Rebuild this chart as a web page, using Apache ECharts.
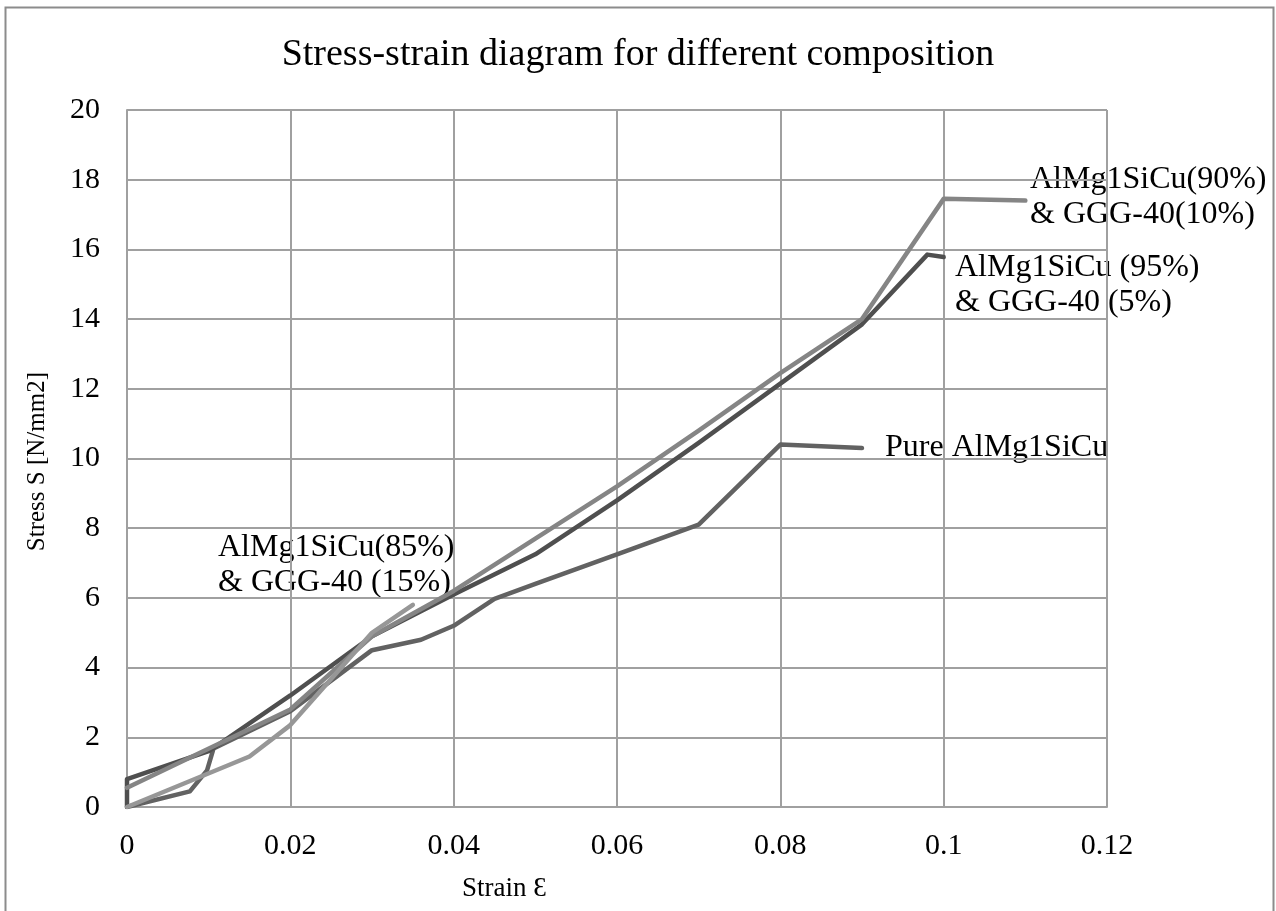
<html lang="en">
<head>
  <meta charset="UTF-8">
  <title>Stress-strain diagram</title>
  <style>
    body { margin: 0; background: #fff; }
    #chart { width: 1276px; height: 911px; }
  </style>
</head>
<body>
  <div id="chart"></div>
  <script src="https://cdn.jsdelivr.net/npm/echarts@6/dist/echarts.min.js"></script>
  <script>
    // strain (x) / stress (y)
    var strain95 = [0, 0, 0.01, 0.02, 0.03, 0.04, 0.05, 0.06, 0.07, 0.08, 0.09, 0.098, 0.1]
    var stress95 = [0, 0.8, 1.6, 3.2, 4.9, 6.1, 7.25, 8.8, 10.45, 12.15, 13.85, 15.85, 15.78]

    var strain90 = [0, 0.02, 0.03, 0.04, 0.05, 0.06, 0.07, 0.08, 0.09, 0.1, 0.11]
    var stress90 = [0.55, 2.8, 4.9, 6.2, 7.7, 9.2, 10.8, 12.45, 14.0, 17.45, 17.4]

    var strainPure = [0, 0.0077, 0.0098, 0.0106, 0.02, 0.03, 0.036, 0.04, 0.045, 0.05, 0.06, 0.07, 0.08, 0.09]
    var stressPure = [0, 0.45, 1.05, 1.68, 2.75, 4.5, 4.8, 5.2, 5.97, 6.4, 7.25, 8.1, 10.4, 10.3]

    var strain85 = [0, 0.015, 0.02, 0.03, 0.035]
    var stress85 = [0, 1.45, 2.35, 5.0, 5.8]

    var xTicks = { min: 0, max: 0.12, step: 0.02 }
    var yTicks = { min: 0, max: 20, step: 2 }

    var font = "'Liberation Serif', 'Times New Roman', serif"

    var zip = function (xs, ys) {
      return xs.map(function (x, i) { return [x, ys[i]] })
    }

    var mkLine = function (name, color, xs, ys) {
      return {
        name: name,
        type: 'line',
        symbol: 'none',
        smooth: false,
        lineStyle: { color: color, width: 4.5, cap: 'round', join: 'round' },
        data: zip(xs, ys)
      }
    }

    var series = [
      mkLine('Pure AlMg1SiCu', '#626262', strainPure, stressPure),
      mkLine('AlMg1SiCu (95%) & GGG-40 (5%)', '#4f4f4f', strain95, stress95),
      mkLine('AlMg1SiCu(90%) & GGG-40(10%)', '#858585', strain90, stress90),
      mkLine('AlMg1SiCu(85%) & GGG-40 (15%)', '#979797', strain85, stress85)
    ]

    var endLabel = function (txt, x, y) {
      return {
        type: 'text',
        left: x,
        top: y,
        style: {
          text: txt,
          font: '32px ' + font,
          fill: '#000',
          lineHeight: 35
        }
      }
    }

    var option = {
      animation: false,
      backgroundColor: '#fff',
      title: {
        text: 'Stress-strain diagram for different composition',
        left: 'center',
        top: 31,
        textStyle: { fontFamily: font, fontSize: 38, fontWeight: 'normal', color: '#000' }
      },
      grid: { left: 127, right: 169, top: 110, bottom: 104 },
      xAxis: {
        type: 'value',
        min: xTicks.min,
        max: xTicks.max,
        interval: xTicks.step,
        axisLine: { show: true, lineStyle: { color: '#a0a0a0', width: 2 } },
        axisTick: { show: false },
        axisLabel: { fontFamily: font, fontSize: 30, color: '#000', margin: 24 },
        splitLine: { show: true, lineStyle: { color: '#a0a0a0', width: 2 } }
      },
      yAxis: {
        type: 'value',
        min: yTicks.min,
        max: yTicks.max,
        interval: yTicks.step,
        axisLine: { show: true, lineStyle: { color: '#a0a0a0', width: 2 } },
        axisTick: { show: false },
        axisLabel: { fontFamily: font, fontSize: 30, color: '#000', margin: 27 },
        splitLine: { show: true, lineStyle: { color: '#a0a0a0', width: 2 } }
      },
      graphic: [
        {
          type: 'rect',
          left: 3,
          top: 5,
          shape: { width: 1268, height: 930 },
          style: { fill: 'none', stroke: '#8c8c8c', lineWidth: 2 },
          silent: true
        },
        {
          type: 'text',
          left: 462,
          top: 875,
          style: { text: 'Strain Ɛ', font: '27px ' + font, fill: '#000' }
        },
        {
          type: 'text',
          left: 25,
          top: 372,
          rotation: Math.PI / 2,
          style: { text: 'Stress S [N/mm2]', font: '25px ' + font, fill: '#000' }
        },
        endLabel('AlMg1SiCu(90%)\n& GGG-40(10%)', 1030, 162),
        endLabel('AlMg1SiCu (95%)\n& GGG-40 (5%)', 955, 250),
        endLabel('Pure AlMg1SiCu', 885, 430),
        endLabel('AlMg1SiCu(85%)\n& GGG-40 (15%)', 218, 530)
      ],
      series: series
    }

    var chart = echarts.init(document.getElementById('chart'))
    chart.setOption(option)
  </script>
</body>
</html>
